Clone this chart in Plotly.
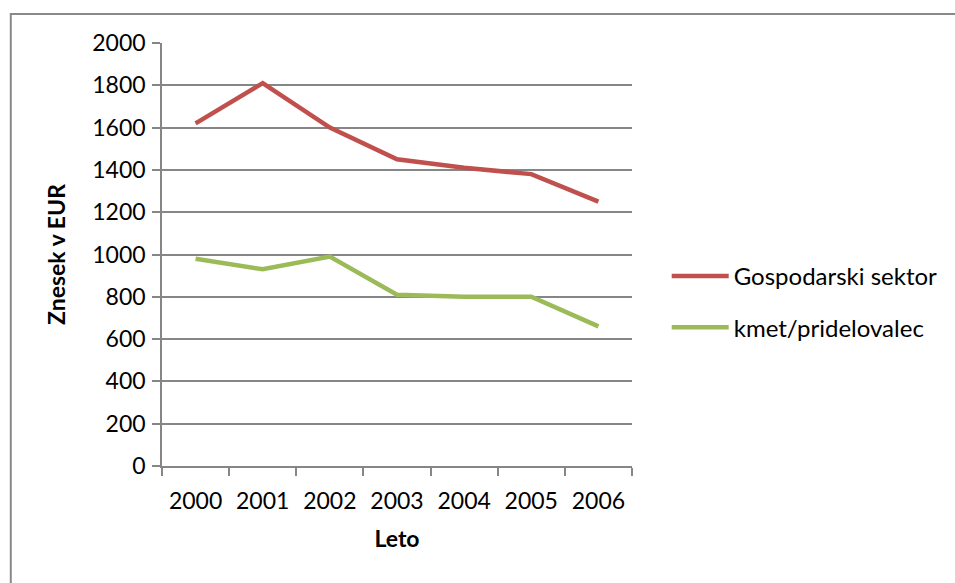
import plotly.graph_objects as go

years = ["2000", "2001", "2002", "2003", "2004", "2005", "2006"]
gospodarski = [1620, 1810, 1600, 1450, 1410, 1380, 1250]
kmet = [980, 930, 990, 810, 800, 800, 660]
y_ticks = [0, 200, 400, 600, 800, 1000, 1200, 1400, 1600, 1800, 2000]

W, H = 955, 583
L, R, T, B = 162, 636, 43, 466

fig = go.Figure()
fig.add_trace(go.Scatter(x=years, y=gospodarski, mode="lines", name="Gospodarski sektor",
                         legendgroup="a", line=dict(color="#C0504D", width=4.5)))
fig.add_trace(go.Scatter(x=years, y=kmet, mode="lines", name="kmet/pridelovalec",
                         legendgroup="b", line=dict(color="#9BBB59", width=4.5)))

font = "Lato, 'Open Sans', sans-serif"
pw, ph = R - L, B - T

fig.update_layout(
    width=W, height=H,
    margin=dict(l=L, r=W - R, t=T, b=H - B, pad=0),
    paper_bgcolor="white", plot_bgcolor="white",
    font=dict(family=font, size=23, color="black"),
    showlegend=True,
    legend=dict(x=(671 - L) / pw, y=(466 - 254) / ph, xanchor="left", yanchor="top",
                bgcolor="rgba(0,0,0,0)", itemwidth=57, tracegroupgap=17, traceorder="grouped",
                font=dict(size=24, family=font)),
    xaxis=dict(type="category", range=[-0.5, 6.5], showgrid=False,
               showline=True, linecolor="#868686", linewidth=1.5,
               ticks="outside", tickson="boundaries", ticklen=8, tickcolor="#868686", tickwidth=1.5,
               ticklabelstandoff=14,
               title=dict(text="<b>Leto</b>", font=dict(size=23, family=font), standoff=18),
               tickfont=dict(size=23, family=font), fixedrange=True),
    yaxis=dict(range=[0, 2000], tickvals=y_ticks, showgrid=True, gridcolor="#868686", gridwidth=1.5,
               showline=True, linecolor="#868686", linewidth=1.5, zeroline=False,
               ticks="outside", ticklen=8, tickcolor="#868686", tickwidth=1.5,
               ticklabelstandoff=2,
               title=dict(text="<b>Znesek v EUR</b>", font=dict(size=23, family=font), standoff=20),
               tickfont=dict(size=23, family=font), fixedrange=True),
    shapes=[dict(type="rect", xref="paper", yref="paper",
                 x0=(9.5 - L) / pw, x1=(1000 - L) / pw,
                 y0=(B - 650) / ph, y1=(B - 14) / ph,
                 line=dict(color="#898989", width=2), fillcolor="rgba(0,0,0,0)", layer="below")],
)

fig.write_html("out.html", config={"displayModeBar": False},
               post_script="document.body.style.margin='0px';")
